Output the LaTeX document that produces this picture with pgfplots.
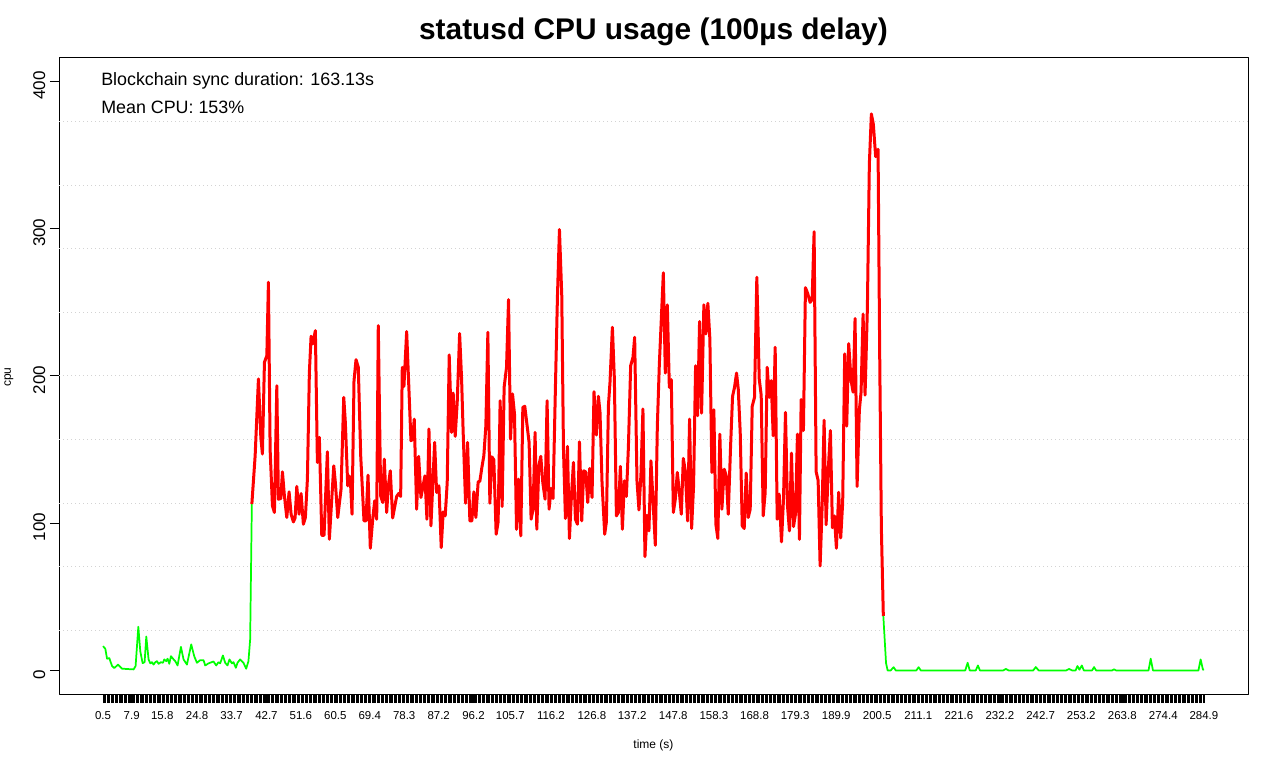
\documentclass[border=0pt]{standalone}
\usepackage{fontspec}
\setmainfont{Liberation Sans}
\usepackage{pgfplots}
\pgfplotsset{compat=1.18}

\definecolor{rgreen}{RGB}{0,255,0}
\definecolor{rred}{RGB}{255,0,0}
\definecolor{rgrid}{RGB}{211,211,211}

\begin{document}
\begin{tikzpicture}
\path[use as bounding box] (0,0) rectangle (960pt,576pt);
\begin{axis}[
    scale only axis,
    width=891.75pt, height=477pt,
    at={(44.25pt,55.5pt)}, anchor=south west,
    xmin=-10.88, xmax=296.28,
    ymin=-16, ymax=416,
    axis line style={line width=0.75pt},
    tick align=outside,
    tick pos=left,
    major tick length=6.75pt,
    minor tick length=6.75pt,
    xtick={0.5,7.9,15.8,24.8,33.7,42.7,51.6,60.5,69.4,78.3,87.2,96.2,105.7,116.2,126.8,137.2,147.8,158.3,168.8,179.3,189.9,200.5,211.1,221.6,232.2,242.7,253.2,263.8,274.4,284.9},
    xticklabels={0.5,7.9,15.8,24.8,33.7,42.7,51.6,60.5,69.4,78.3,87.2,96.2,105.7,116.2,126.8,137.2,147.8,158.3,168.8,179.3,189.9,200.5,211.1,221.6,232.2,242.7,253.2,263.8,274.4,284.9},
    % one tick per sample
    minor xtick={0.5,0.8386,...,284.9},
    xtick style={line width=0.35pt, black},
    ytick={0,100,200,300,400},
    ytick style={line width=0.75pt, black},
    xticklabel style={font=\fontsize{8.6}{10}\selectfont, anchor=north, yshift=-3pt},
    yticklabel style={font=\fontsize{12.75}{15}\selectfont, rotate=90, anchor=south, xshift=-3pt},
    /pgf/number format/assume math mode=true,
    extra y ticks={27.2,70.4,113.6,156.8,200,243.2,286.4,329.6,372.8},
    extra y tick labels={},
    extra y tick style={grid=major, major tick length=0pt},
    major grid style={rgrid, line width=0.75pt, dash pattern=on 0.75pt off 2.25pt},
    line join=round,
]
% idle before sync
\addplot[rgreen, line width=1.3pt] coordinates {
(0.5,16.5) (1.09,14.7) (1.53,8) (2.12,8.4) (2.82,3) (3.41,1.6) (4.37,4) (5.40,1.2)
(8.39,0.7) (8.91,3) (9.61,29.7) (10.12,13) (10.72,5) (11.23,5.6) (11.67,23) (12.26,7.5)
(12.70,4.8) (13.14,5.6) (13.55,4) (13.99,5.6) (14.43,6.3) (14.84,4.5) (15.46,5.6) (15.98,5.2)
(16.31,7.5) (16.83,6.3) (17.17,8) (17.61,4.5) (18.04,9.7) (18.56,8) (19.15,6.3) (19.75,3.4)
(20.62,16) (21.29,7.5) (22.17,4) (23.28,17.7) (24.05,9.7) (24.75,5.2) (25.60,7) (26.45,7)
(26.89,3.4) (27.74,4.8) (29.03,6.1) (29.73,3.4) (30.32,5.6) (30.76,4.8) (31.46,10.2) (32.05,5.2)
(32.65,3.4) (33.16,7.5) (33.78,4.8) (34.19,5.6) (34.81,1.8) (35.23,5.2) (35.92,7.5) (36.77,5.2)
(37.47,1.2) (38.06,6.3) (38.50,21) (38.94,113)
};
% blockchain sync
\addplot[rred, line width=2.25pt] coordinates {
(38.94,113) (39.79,145.8) (40.64,198) (41.26,158.3) (41.67,147) (42.19,209.3) (42.81,213.8) (43.22,263.7)
(43.66,150) (44.26,111.8) (44.77,107.3) (45.39,193.4) (45.80,116.3) (46.42,116.8) (46.84,134.9) (47.35,118.6)
(47.97,103.9) (48.56,121.3) (49.08,106.1) (49.67,100.9) (50.11,103.6) (50.55,125) (51.14,106.1) (51.66,120.2)
(52.25,99.3) (52.77,103.9) (53.29,129.9) (53.80,202.5) (54.24,227) (54.68,221.8) (55.35,230.8) (55.87,141.3)
(56.38,158.3) (57.00,91.8) (57.59,91.8) (58.45,148.5) (58.96,89.1) (59.58,116.3) (60.10,139) (60.51,127.7)
(61.13,103.9) (61.98,123.1) (62.68,185.5) (63.09,168.5) (63.71,125.4) (64.05,132.2) (64.38,129.9) (64.82,106.1)
(65.33,196.8) (65.85,211.1) (66.44,205.9) (67.06,145.8) (67.91,101.6) (68.43,101.6) (68.95,132.7) (69.54,83)
(70.16,102.7) (70.67,115.2) (71.19,102.7) (71.60,234.2) (72.22,118.6) (72.74,114.1) (73.15,143.5) (73.77,107.3)
(74.19,125) (74.70,135.6) (75.32,103.6) (75.73,109.5) (76.35,118.2) (76.87,120.2) (77.38,118.2) (77.80,205.9)
(78.23,193) (78.93,230.2) (80.04,156) (80.48,157.1) (80.89,170.7) (81.51,109.5) (82.03,145.4) (82.62,117.5)
(83.21,125.9) (83.65,132.2) (84.17,102.7) (84.69,164) (85.20,98.2) (86.16,154.9) (86.67,120.9) (87.27,125.4)
(87.86,83.4) (88.37,107.7) (88.89,105) (89.41,127.7) (89.92,214.3) (90.54,161.7) (90.95,188.4) (91.47,159)
(91.99,182.1) (92.61,228.8) (93.12,198) (93.53,161.7) (94.15,113.6) (94.67,154.9) (95.26,101.6) (95.78,101.6)
(96.29,121.3) (96.81,103.9) (97.40,128.1) (97.84,128.5) (98.36,137.9) (98.87,145.8) (99.39,166.2) (99.91,229.7)
(100.42,113.6) (100.94,145.1) (101.45,143.1) (102.05,92.5) (102.56,100.9) (103.08,183.2) (103.60,111.4) (104.11,192.3)
(104.73,205.9) (105.25,251.9) (105.76,157.1) (106.28,187.8) (106.79,174.1) (107.31,95.9) (107.83,129.9) (108.42,91.4)
(108.94,178.7) (109.45,179.4) (110.05,166.2) (110.56,154.9) (111.08,102.7) (111.59,109.5) (112.11,161.7) (112.55,95.9)
(113.07,139) (113.58,145.4) (114.10,127.7) (114.69,116.3) (115.21,183.2) (115.72,109.5) (116.24,123.6) (116.75,116.8)
(117.37,193.4) (117.89,254.6) (118.40,299.5) (119.00,254.6) (119.44,150.3) (119.95,103.2) (120.47,152.2) (120.98,89.6)
(121.50,118.6) (122.02,141.3) (122.53,102.7) (123.05,99.3) (123.57,155.3) (124.16,101.6) (124.67,135.6) (125.19,134.9)
(125.71,114.1) (126.22,137.2) (126.82,117.5) (127.33,189.3) (127.95,159.9) (128.47,186.2) (128.88,175.3) (129.40,127.7)
(130.09,92.5) (130.53,100.9) (131.05,179.8) (131.46,195.7) (132.08,233.1) (132.59,198) (133.11,105) (133.63,107.3)
(134.14,138.6) (134.66,95.9) (135.17,128.8) (135.69,118.2) (136.21,151.5) (136.80,207) (137.40,212.7) (137.83,226.3)
(138.43,128.8) (138.94,109) (139.46,133.3) (139.97,177.6) (140.49,77.3) (141.01,105.4) (141.52,94.8) (142.04,142.4)
(142.55,116.3) (143.17,85) (143.69,166.2) (144.21,208.2) (144.72,238.8) (145.24,270.1) (145.75,202) (146.27,248.3)
(146.79,192.3) (147.30,197.5) (147.82,107.3) (148.33,116.3) (148.85,134.5) (149.37,121.3) (149.88,106.1) (150.40,144)
(150.91,135.6) (151.51,101.6) (152.02,170.7) (152.54,96.4) (153.05,125.4) (153.57,207) (154.09,173) (154.60,237)
(155.12,174.8) (155.71,248.3) (156.23,228.6) (156.74,249.4) (157.26,225.2) (157.78,134.5) (158.29,177.1) (158.81,99.3)
(159.32,89.6) (159.84,160.5) (160.36,109.5) (160.97,136.7) (161.49,132.2) (162.01,106.1) (162.60,151.5) (163.12,186.2)
(163.63,192.3) (164.15,202) (164.59,191.2) (165.10,161.7) (165.62,98.2) (166.13,96.4) (166.65,134.1) (167.17,103.9)
(167.68,109.5) (168.20,179.4) (168.79,185.5) (169.39,267.1) (170.01,198) (170.52,186.9) (171.04,105) (171.55,120.9)
(172.07,205.9) (172.59,185.5) (173.10,196.8) (173.62,159.4) (174.13,219.5) (174.65,102.7) (175.17,119.7) (175.76,87.3)
(176.28,116.3) (176.79,175.3) (177.31,111.8) (177.82,94.8) (178.34,147.6) (178.86,97.7) (179.37,106.1) (179.89,160.5)
(180.40,89) (180.84,184) (181.43,163) (181.95,260) (182.54,256) (183.16,250) (183.68,252) (184.19,298)
(184.71,135) (185.23,129) (185.74,71) (186.26,111) (186.77,170) (187.29,99) (187.88,138) (188.40,163)
(188.92,97) (189.43,105) (189.95,83) (190.54,121) (191.06,90) (191.57,114) (192.09,215) (192.61,166)
(193.12,222) (193.74,197) (194.26,189) (194.77,239) (195.29,125) (195.88,177) (196.32,189) (196.84,242)
(197.35,187) (197.95,246) (198.46,344) (198.98,378) (199.49,371) (200.09,349) (200.35,351) (200.71,354)
(201.12,218) (201.56,97) (202.07,37)
};
% idle after sync
\addplot[rgreen, line width=1.3pt] coordinates {
(202.07,37) (202.77,5) (203.18,0) (203.96,0) (204.73,2.2) (205.30,0) (210.59,0) (211.18,2.2)
(211.75,0) (223.23,0) (223.85,5.2) (224.39,0) (225.94,0) (226.51,3.4) (227.02,0) (233.03,0)
(233.73,1) (234.45,0) (240.77,0) (241.47,2.3) (242.19,0) (249.29,0) (250.06,1) (250.84,0)
(251.74,0) (252.21,3) (252.73,0.5) (253.35,3.4) (253.86,0) (256.00,0) (256.51,2.3) (257.03,0)
(261.16,0) (261.67,0.8) (262.19,0) (270.58,0) (271.14,8) (271.73,0) (283.47,0) (284.04,7.5)
(284.64,0.5) (284.9,0.8)
};
\end{axis}
\node[font=\fontsize{22.4}{27}\selectfont\bfseries] at (490.1pt,552pt) {statusd CPU usage (100µs delay)};
\node[font=\fontsize{13.4}{16}\selectfont, anchor=base west, inner sep=0pt] at (75.75pt,511.5pt) {Blockchain sync duration: 163.13s};
\node[font=\fontsize{13.4}{16}\selectfont, anchor=base west, inner sep=0pt] at (75.75pt,490.5pt) {Mean CPU: 153\%};
\node[font=\fontsize{9}{11}\selectfont] at (490.1pt,17.25pt) {time (s)};
\node[font=\fontsize{9}{11}\selectfont, rotate=90] at (6.75pt,293.25pt) {cpu};
\end{tikzpicture}
\end{document}
